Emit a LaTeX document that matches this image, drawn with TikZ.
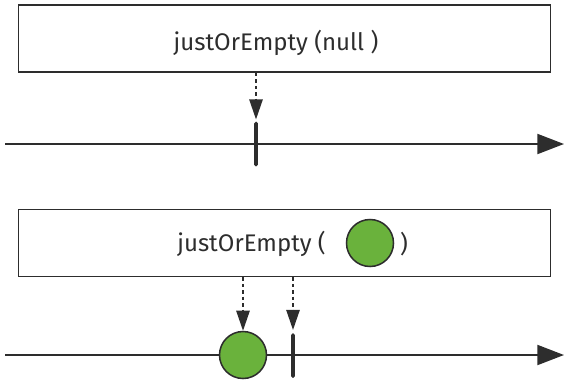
\documentclass[tikz,border=0pt]{standalone}
\usepackage{fontspec}
\setmainfont{Fira Sans}
\usetikzlibrary{arrows.meta,positioning}
\definecolor{LineGray}{RGB}{45,45,45}
\definecolor{MarbleGreen}{RGB}{106,178,60}
\tikzset{
  opbox/.style={draw=LineGray, line width=1.2pt, minimum width=15.95cm,
    minimum height=2.02cm},
  oplabel/.style={text=LineGray, font=\fontsize{20.5}{24}\selectfont, inner sep=0pt},
  marble/.style={circle, draw=LineGray, fill=MarbleGreen, line width=1.3pt,
    minimum size=1.41cm, inner sep=0pt},
  tickmark/.style={fill=LineGray, minimum width=0.11cm, minimum height=1.34cm,
    inner sep=0pt, rounded corners=0.05cm},
  timeline/.style={LineGray, line width=1.7pt,
    -{Triangle[length=0.8cm, width=0.6cm]}},
  emit/.style={LineGray, line width=1.3pt, dash pattern=on 3pt off 2.5pt,
    -{Triangle[length=0.6cm, width=0.4cm]}}
}
\begin{document}
\begin{tikzpicture}[x=0.03cm, y=-0.03cm]
  \useasboundingbox (0,0) rectangle (570,384);
  % null case
  \node[opbox] (nullbox) at (284.5,38.5) {};
  \node[oplabel] (nulllabel) at (276,43) {justOrEmpty (null )};
  \coordinate (nullstart) at (5,144);
  \coordinate (nullend) at (564,144);
  \draw[timeline] (nullstart) -- (nullend);
  \node[tickmark] (nulltick) at (256,144) {};
  \draw[emit, shorten >=0.06cm] (nullbox.south -| nulltick) -- (nulltick.north);
  % value case
  \node[oplabel, anchor=east] (vallabel) at (326,244) {justOrEmpty (};
  \node[opbox] (valbox) at (284.5,243) {};
  \node[marble] (valarg) at (370,243) {};
  \node[oplabel] (valclose) at (404,244) {)};
  \coordinate (valstart) at (5,355);
  \coordinate (valend) at (564,355);
  \draw[timeline] (valstart) -- (valend);
  \node[marble] (valitem) at (243,355) {};
  \node[tickmark] (valtick) at (293,355.5) {};
  \draw[emit] (valbox.south -| valitem) -- (valitem.north);
  \draw[emit, shorten >=0.09cm] (valbox.south -| valtick) -- (valtick.north);
\end{tikzpicture}
\end{document}
